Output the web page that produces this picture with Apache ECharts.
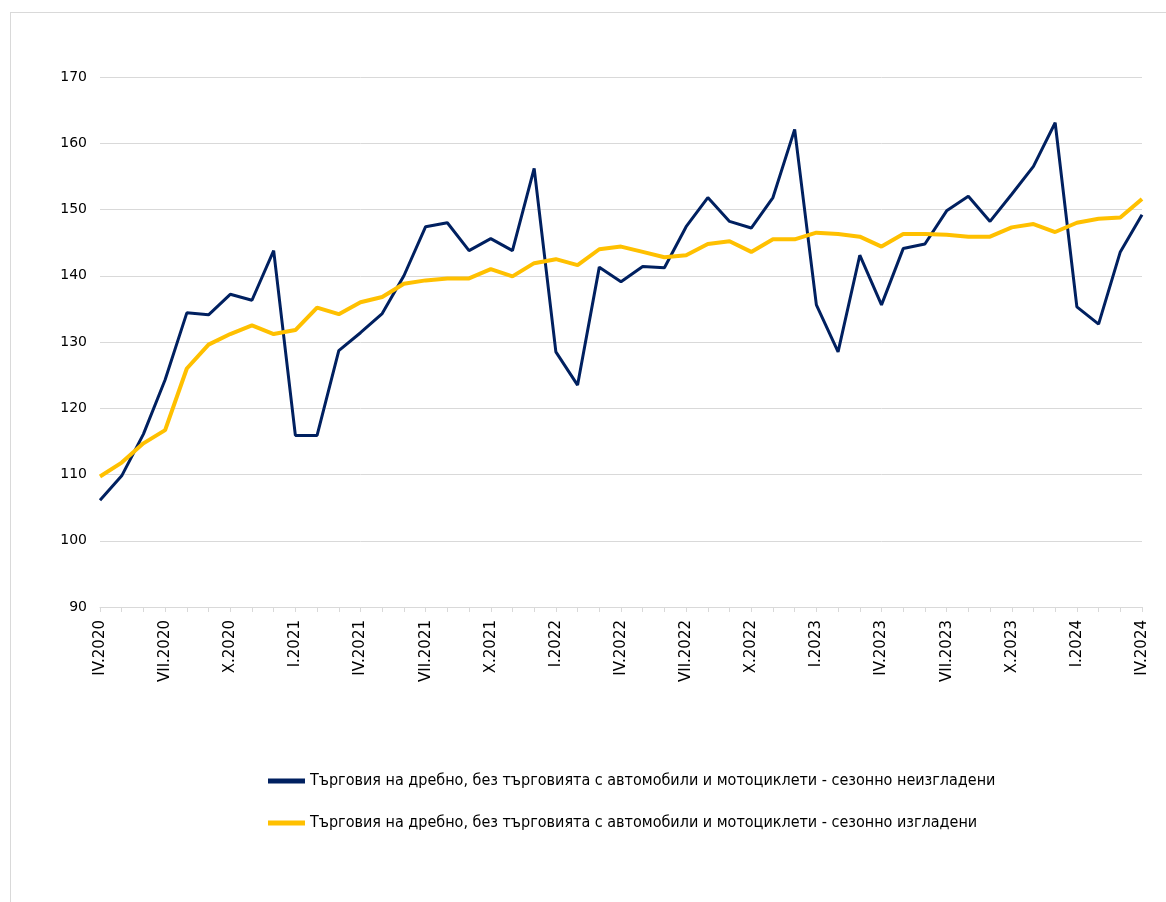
<!DOCTYPE html>
<html>
<head>
<meta charset="utf-8">
<script src="https://cdn.jsdelivr.net/npm/echarts@6/dist/echarts.min.js"></script>
<style>
  html, body { margin: 0; padding: 0; background: #fff; }
  #frame { position: absolute; left: 10px; top: 12px; width: 1170px; height: 900px; border: 1px solid #d9d9d9; box-sizing: border-box; }
  #chart { position: absolute; left: 0; top: 0; width: 1166px; height: 902px; }
</style>
</head>
<body>
<div id="frame"></div>
<div id="chart"></div>
<script>
// monthly, IV.2020 .. IV.2024
const romans = ['I', 'II', 'III', 'IV', 'V', 'VI', 'VII', 'VIII', 'IX', 'X', 'XI', 'XII'];
const months = [];
for (let y = 2020; y <= 2024; y++) {
    for (let m = 0; m < 12; m++) {
        if (y === 2020 && m < 3) continue;
        if (y === 2024 && m > 3) continue;
        months.push(romans[m] + '.' + y);
    }
}

const seriesNames = [
    'Търговия на дребно, без търговията с автомобили и мотоциклети - сезонно неизгладени',
    'Търговия на дребно, без търговията с автомобили и мотоциклети - сезонно изгладени'
];

const unadjusted = [
    106.1, 109.8, 116.1, 124.3, 134.4, 134.1, 137.2, 136.3, 143.8, 115.9,
    115.9, 128.7, 131.4, 134.3, 140.0, 147.4, 148.0, 143.8, 145.6, 143.8,
    156.2, 128.5, 123.5, 141.3, 139.1, 141.4, 141.2, 147.4, 151.8, 148.2,
    147.2, 151.8, 162.1, 135.6, 128.5, 143.1, 135.6, 144.1, 144.8, 149.8,
    152.0, 148.2, 152.3, 156.5, 163.1, 135.3, 132.7, 143.6, 149.2
];

const adjusted = [
    109.7, 111.8, 114.7, 116.7, 126.0, 129.6, 131.2, 132.5, 131.2, 131.8,
    135.2, 134.2, 136.0, 136.8, 138.8, 139.3, 139.6, 139.6, 141.0, 139.9,
    141.9, 142.5, 141.6, 144.0, 144.4, 143.6, 142.8, 143.1, 144.8, 145.2,
    143.6, 145.5, 145.5, 146.5, 146.3, 145.9, 144.4, 146.3, 146.3, 146.2,
    145.9, 145.9, 147.3, 147.8, 146.6, 148.0, 148.6, 148.8, 151.6
];

const colors = ['#002060', '#FFC000'];

const chart = echarts.init(document.getElementById('chart'));

const font = 'Verdana, "DejaVu Sans", sans-serif';
const legendText = { fontFamily: '"DejaVu Sans Condensed", "DejaVu Sans", sans-serif', fontSize: 16, color: '#000' };

function makeLegend(i, top) {
    return {
        orient: 'horizontal',
        left: 268,
        top: top,
        padding: 0,
        itemWidth: 37,
        itemHeight: 5,
        textStyle: legendText,
        data: [{ name: seriesNames[i], icon: 'rect' }]
    };
}

chart.setOption({
    animation: false,
    backgroundColor: 'transparent',
    grid: { left: 100, right: 24, top: 77, bottom: 295, containLabel: false },
    legend: [makeLegend(0, 773), makeLegend(1, 815)],
    xAxis: {
        type: 'category',
        boundaryGap: false,
        data: months,
        axisLine: { lineStyle: { color: '#d9d9d9', width: 1 } },
        axisTick: { show: true, interval: 0, length: 5, lineStyle: { color: '#d9d9d9' } },
        axisLabel: {
            interval: 2,
            rotate: 90,
            margin: 13,
            color: '#000',
            fontSize: 15,
            fontFamily: font
        },
        splitLine: { show: false }
    },
    yAxis: {
        type: 'value',
        min: 90,
        max: 170,
        interval: 10,
        axisLine: { show: false },
        axisTick: { show: false },
        axisLabel: { color: '#000', fontSize: 14, fontFamily: font, margin: 13 },
        splitLine: { lineStyle: { color: '#d9d9d9', width: 1 } }
    },
    series: [
        {
            name: seriesNames[0],
            type: 'line',
            data: unadjusted,
            symbol: 'none',
            color: colors[0],
            lineStyle: { color: colors[0], width: 3 }
        },
        {
            name: seriesNames[1],
            type: 'line',
            data: adjusted,
            symbol: 'none',
            color: colors[1],
            lineStyle: { color: colors[1], width: 4 }
        }
    ]
});
</script>
</body>
</html>
